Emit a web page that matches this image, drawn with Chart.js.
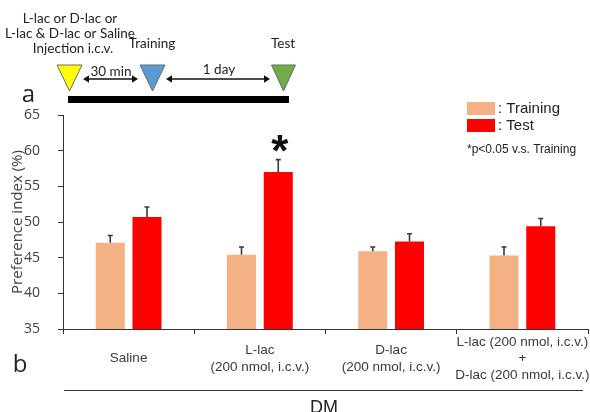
<!DOCTYPE html>
<html>
<head>
<meta charset="utf-8">
<script src="https://cdn.jsdelivr.net/npm/chart.js@4.4.1/dist/chart.umd.min.js"></script>
<style>
  html, body { margin: 0; padding: 0; background: #fff; }
  #wrap { position: relative; width: 590px; height: 412px; }
</style>
</head>
<body>
<div id="wrap"><canvas id="c" width="590" height="412"></canvas></div>
<script>
// Groups on the x axis (multi-line labels)
const categories = [
  ['Saline'],
  ['L-lac', '(200 nmol, i.c.v.)'],
  ['D-lac', '(200 nmol, i.c.v.)'],
  ['L-lac (200 nmol, i.c.v.)', '+', 'D-lac (200 nmol, i.c.v.)']
];
const seriesNames = ['Training', 'Test'];

// Preference index (%) means and SEM
const trainingMean = [47.1, 45.4, 45.9, 45.3];
const trainingErr  = [1.0, 1.1, 0.6, 1.2];
const testMean     = [50.7, 57.0, 47.25, 49.4];
const testErr      = [1.4, 1.75, 1.1, 1.1];

// *p<0.05 vs Training
const significant = [false, true, false, false];

// Y axis range
const yMin = 35, yMax = 65, yStep = 5;

const yTitle = 'Preference index (%)';
const groupTitle = 'DM';
const footnote = '*p<0.05 v.s. Training';
const protocolLines = ['L-lac or D-lac or', 'L-lac & D-lac or Saline', 'Injection i.c.v.'];

const COLORS = ['#F4B183', '#FF0000'];
const INK = '#333333';

function drawArrow(ctx, x1, x2, y) {
  const h = 5;
  ctx.beginPath();
  ctx.moveTo(x1 + 2, y); ctx.lineTo(x2 - 2, y);
  ctx.stroke();
  ctx.beginPath();
  ctx.moveTo(x1, y); ctx.lineTo(x1 + h + 1, y - h * 0.75); ctx.lineTo(x1 + h + 1, y + h * 0.75); ctx.closePath();
  ctx.moveTo(x2, y); ctx.lineTo(x2 - h - 1, y - h * 0.75); ctx.lineTo(x2 - h - 1, y + h * 0.75); ctx.closePath();
  ctx.fill();
}

function drawTriangle(ctx, cx, top, w, h, fill) {
  ctx.beginPath();
  ctx.moveTo(cx - w / 2, top);
  ctx.lineTo(cx + w / 2, top);
  ctx.lineTo(cx, top + h);
  ctx.closePath();
  ctx.fillStyle = fill;
  ctx.fill();
  ctx.strokeStyle = '#6a6a6a';
  ctx.lineWidth = 1;
  ctx.stroke();
}

// Error bars (upper only) and significance marks
const errorBars = {
  id: 'errorBars',
  afterDatasetsDraw(chart) {
    const ctx = chart.ctx, ys = chart.scales.y;
    chart.data.datasets.forEach((ds, di) => {
      const meta = chart.getDatasetMeta(di);
      meta.data.forEach((bar, i) => {
        const top = ys.getPixelForValue(ds.data[i] + ds.errors[i]);
        ctx.save();
        ctx.strokeStyle = '#3a3a3a';
        ctx.lineWidth = 1.6;
        ctx.beginPath();
        ctx.moveTo(bar.x, bar.y);
        ctx.lineTo(bar.x, top);
        ctx.moveTo(bar.x - 2.5, top);
        ctx.lineTo(bar.x + 2.5, top);
        ctx.stroke();
        if (di === 1 && significant[i]) {
          ctx.fillStyle = '#111';
          ctx.font = 'bold 44px "Liberation Sans"';
          ctx.textAlign = 'center';
          ctx.textBaseline = 'alphabetic';
          const m = ctx.measureText('*');
          const inkBottom = top - 8;
          ctx.fillText('*', bar.x + 1.5, inkBottom - m.actualBoundingBoxDescent);
        }
        ctx.restore();
      });
    });
  }
};

// Legend, titles, protocol timeline
const decorations = {
  id: 'decorations',
  afterDraw(chart) {
    const ctx = chart.ctx;
    ctx.save();

    // y axis title
    ctx.save();
    ctx.translate(18, 222);
    ctx.rotate(-Math.PI / 2);
    ctx.font = '15px "Open Sans"';
    ctx.fillStyle = '#404040';
    ctx.textAlign = 'center';
    ctx.textBaseline = 'middle';
    ctx.fillText(yTitle, 0, 0);
    ctx.restore();

    // legend
    ctx.font = '15px "Liberation Sans"';
    ctx.textBaseline = 'middle';
    ctx.textAlign = 'left';
    chart.data.datasets.forEach((ds, i) => {
      const top = i === 0 ? 102 : 119;
      ctx.fillStyle = ds.backgroundColor;
      ctx.fillRect(467, top, 28, 13);
      ctx.fillStyle = '#222';
      ctx.fillText(': ' + ds.label, 498, top + 6.5);
    });
    ctx.font = '12px "Liberation Sans"';
    ctx.fillStyle = '#222';
    ctx.fillText(footnote, 467, 150);

    // group line and title
    ctx.strokeStyle = INK;
    ctx.lineWidth = 1.2;
    ctx.beginPath();
    ctx.moveTo(64, 390.5);
    ctx.lineTo(583, 390.5);
    ctx.stroke();
    ctx.font = '18px "Liberation Sans"';
    ctx.fillStyle = '#222';
    ctx.textAlign = 'center';
    ctx.textBaseline = 'alphabetic';
    ctx.fillText(groupTitle, 324, 413);

    // panel letters
    ctx.font = '24px "Open Sans"';
    ctx.textAlign = 'center';
    ctx.fillText('a', 28.5, 102);
    ctx.fillText('b', 20, 372);

    // protocol timeline
    ctx.font = '13.5px Lato';
    ctx.fillStyle = '#222';
    ctx.textBaseline = 'middle';
    ctx.fillText(protocolLines[0], 70, 19);
    ctx.fillText(protocolLines[1], 70, 34);
    ctx.fillText(protocolLines[2], 73, 49);
    ctx.fillText('Training', 152, 44);
    ctx.fillText('Test', 283, 44);
    ctx.fillText('30 min', 111, 72);
    ctx.fillText('1 day', 219, 70);

    drawTriangle(ctx, 69.5, 65, 25, 26, '#FFFF00');
    drawTriangle(ctx, 152.5, 65, 25, 26, '#5B9BD5');
    drawTriangle(ctx, 283.5, 65, 24, 26, '#70AD47');

    ctx.strokeStyle = '#111';
    ctx.fillStyle = '#111';
    ctx.lineWidth = 1.5;
    drawArrow(ctx, 83, 138, 79);
    drawArrow(ctx, 166, 270, 79);

    ctx.fillStyle = '#000';
    ctx.fillRect(68, 96, 221, 7);

    ctx.restore();
  }
};

new Chart(document.getElementById('c'), {
  type: 'bar',
  data: {
    labels: categories,
    datasets: [
      { label: seriesNames[0], data: trainingMean, errors: trainingErr, backgroundColor: COLORS[0],
        categoryPercentage: 0.56, barPercentage: 0.79 },
      { label: seriesNames[1], data: testMean, errors: testErr, backgroundColor: COLORS[1],
        categoryPercentage: 0.56, barPercentage: 0.79 }
    ]
  },
  options: {
    responsive: false,
    devicePixelRatio: 1,
    animation: false,
    layout: { padding: { top: 115, right: 2, left: 0, bottom: 0 } },
    plugins: { legend: { display: false }, tooltip: { enabled: false } },
    scales: {
      x: {
        afterFit(scale) {
          scale.height = 83;
          scale.paddingLeft = 0;
          scale.paddingRight = 0;
        },
        grid: { display: true, drawOnChartArea: false, drawTicks: true, tickLength: 5, color: INK, offset: true },
        border: { display: true, color: INK, width: 1 },
        ticks: {
          autoSkip: false, maxRotation: 0, minRotation: 0,
          crossAlign: 'center', padding: 8,
          color: '#3a3a3a',
          font: { family: '"Liberation Sans"', size: 13.5, lineHeight: 1.24 }
        }
      },
      y: {
        min: yMin, max: yMax,
        afterFit(scale) { scale.width = 63; },
        grid: { display: true, drawOnChartArea: false, drawTicks: true, tickLength: 5, color: INK },
        border: { display: true, color: INK, width: 1 },
        ticks: {
          stepSize: yStep, padding: 18, color: '#404040',
          font: { family: '"Open Sans"', size: 14 }
        }
      }
    }
  },
  plugins: [errorBars, decorations]
});
</script>
</body>
</html>
